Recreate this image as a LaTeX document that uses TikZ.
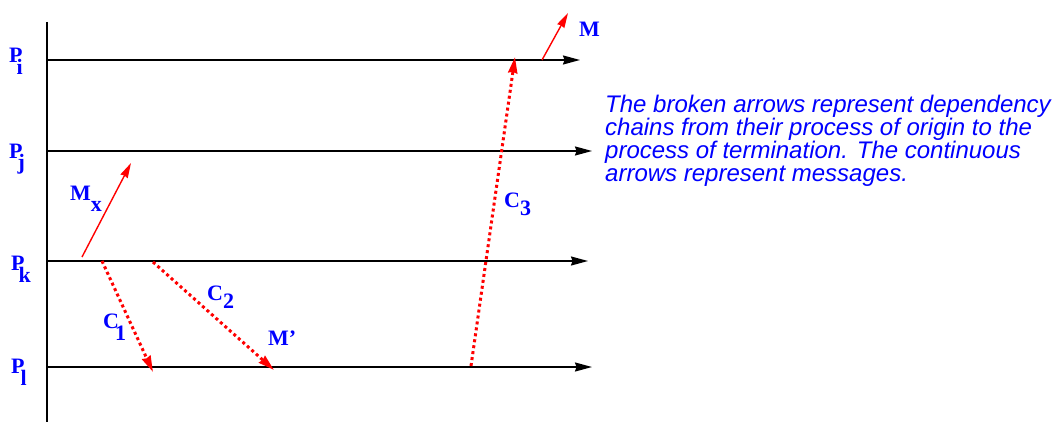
\documentclass[tikz,border=0pt]{standalone}
\usepackage{fontspec}
\setmainfont{Liberation Serif}
\newfontfamily\helv{Liberation Sans}
\usetikzlibrary{arrows.meta}
\definecolor{lblue}{RGB}{0,0,255}
\definecolor{lred}{RGB}{255,0,0}
\newcommand\lsub[3]{#1\kern#3\raisebox{-12pt}{#2}}
\begin{document}
\begin{tikzpicture}[x=1pt,y=-1pt,
  lab/.style={font=\fontsize{22}{22}\selectfont\bfseries, text=lblue, inner sep=0pt, anchor=base west},
  proc/.style={draw=black, line width=1.6pt, -{Stealth[length=17pt,width=9pt,inset=1.5pt]}},
  msg/.style={draw=lred, line width=1.4pt, -{Stealth[length=15pt,width=8pt,inset=1pt]}},
  chain/.style={draw=lred, line width=3pt, dash pattern=on 3pt off 3pt, -{Stealth[length=16pt,width=9pt,inset=1pt]}},
  note/.style={font=\helv\itshape\fontsize{24}{23}\selectfont, text=lblue, align=left, anchor=north west, inner sep=0pt}
]
\useasboundingbox (0,0) rectangle (1056,422);
% process lines
\coordinate (top) at (47,22);
\coordinate (bot) at (47,422);
\draw[line width=1.6pt] (top) -- (bot);
\coordinate (i0) at (47,60);  \coordinate (i1) at (580,60);
\coordinate (j0) at (47,151); \coordinate (j1) at (592,151);
\coordinate (k0) at (47,261); \coordinate (k1) at (588,261);
\coordinate (l0) at (47,367); \coordinate (l1) at (592,367);
\draw[proc] (i0) -- (i1);
\draw[proc] (j0) -- (j1);
\draw[proc] (k0) -- (k1);
\draw[proc] (l0) -- (l1);
% process labels
\node[lab] (Pi) at (9,63) {\lsub{P}{i}{-6pt}};
\node[lab] (Pj) at (9,158) {\lsub{P}{j}{-5pt}};
\node[lab] (Pk) at (11,270) {\lsub{P}{k}{-6pt}};
\node[lab] (Pl) at (11,373) {\lsub{P}{l}{-4pt}};
% messages
\coordinate (mx0) at (82,257);  \coordinate (mx1) at (131,163);
\draw[msg] (mx0) -- (mx1);
\node[lab] (Mx) at (70,200) {\lsub{M}{x}{0pt}};
\coordinate (m0) at (542,60); \coordinate (m1) at (568,13);
\draw[msg] (m0) -- (m1);
\node[lab] (M) at (579,37) {M};
% chains
\coordinate (c10) at (102,261); \coordinate (c11) at (153,372);
\draw[chain] (c10) -- (c11);
\node[lab] (C1) at (103,328) {\lsub{C}{1}{-4pt}};
\coordinate (c20) at (153,262); \coordinate (c21) at (274,370);
\draw[chain] (c20) -- (c21);
\node[lab] (C2) at (207,300) {C\raisebox{-8pt}{2}};
\node[lab] (Mp) at (268,345) {M’};
\coordinate (c30) at (471,366); \coordinate (c31) at (515,57);
\draw[chain] (c30) -- (c31);
\node[lab] (C3) at (504,207) {C\raisebox{-8pt}{3}};
% note
\node[note] (txt) at (605,95) {\frenchspacing The broken arrows represent dependency\\chains from their process of origin to the\\process of termination. The continuous\\arrows represent messages.};
\end{tikzpicture}
\end{document}
